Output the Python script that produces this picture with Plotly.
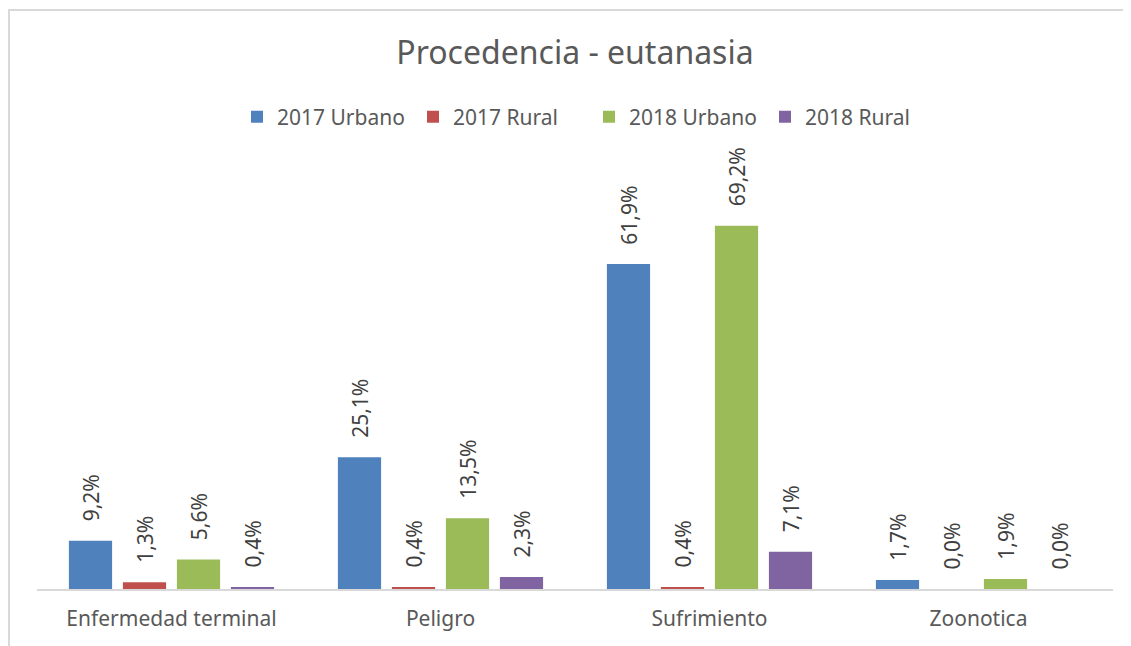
import plotly.graph_objects as go

categories = ["Enfermedad terminal", "Peligro", "Sufrimiento", "Zoonotica"]
series_names = ["2017 Urbano", "2017 Rural", "2018 Urbano", "2018 Rural"]
urbano_2017 = [9.2, 25.1, 61.9, 1.7]
rural_2017 = [1.3, 0.4, 0.4, 0.0]
urbano_2018 = [5.6, 13.5, 69.2, 1.9]
rural_2018 = [0.4, 2.3, 7.1, 0.0]
colors = ["#4f81bd", "#c0504d", "#9bbb59", "#8064a2"]

FONT = "Noto Sans"
series_values = [urbano_2017, rural_2017, urbano_2018, rural_2018]

# page adds an 8px body margin; positions below are in figure pixels
OFF = 8
PX0, PX1 = 37 - OFF, 1113 - OFF   # plot area x
PY0, PY1 = 169 - OFF, 589 - OFF   # plot area y (top, bottom)
W, H = 1131, 646
PW, PH = PX1 - PX0, PY1 - PY0

fig = go.Figure()
for name, vals, col in zip(series_names, series_values, colors):
    labels = ["\u00a0\u00a0\u00a0" + f"{v:.1f}".replace(".", ",") + "%" for v in vals]
    fig.add_trace(go.Bar(
        name=name, x=categories, y=vals, marker_color=col,
        marker_line_width=0,
        text=labels, textposition="outside", textangle=-90,
        textfont=dict(family=FONT, size=21, color="#404040"),
        cliponaxis=False, constraintext="none",
    ))

fig.update_layout(
    width=W, height=H,
    margin=dict(l=PX0, r=W - PX1, t=PY0, b=H - PY1),
    paper_bgcolor="white", plot_bgcolor="white",
    barmode="group", bargap=0.197, bargroupgap=0.2,
    font=dict(family=FONT, color="#595959"),
    title=dict(text="Procedencia - eutanasia", x=(575 - OFF) / W, xanchor="center",
               y=1 - (53 - OFF) / H, yanchor="middle",
               font=dict(family=FONT, size=32, color="#595959")),
    legend=dict(orientation="h", x=0.5 + 14 / PW, xanchor="center",
                y=(PY1 - (117 - OFF)) / PH, yanchor="middle",
                font=dict(family=FONT, size=21, color="#595959"),
                traceorder="normal", entrywidth=131),
    xaxis=dict(showline=True, linecolor="#d9d9d9", linewidth=1.5,
               ticks="", tickfont=dict(family=FONT, size=21, color="#595959"),
               ticklabelstandoff=10, showgrid=False),
    yaxis=dict(range=[0, 80], visible=False, showgrid=False),
    shapes=[dict(type="rect", xref="paper", yref="paper",
                 x0=(1 - PX0) / PW, x1=(1160 - PX0) / PW,
                 y0=(PY1 - 680) / PH, y1=(PY1 - 2) / PH,
                 line=dict(color="#d9d9d9", width=2), layer="below")],
)

fig.write_html("out.html")
